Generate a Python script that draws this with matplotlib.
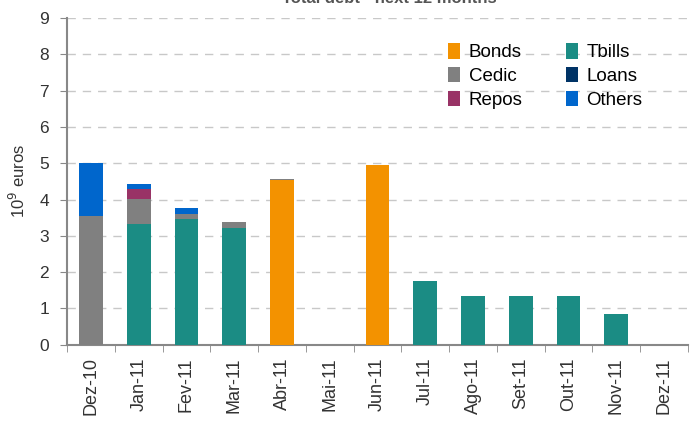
import numpy as np
import matplotlib.pyplot as plt

plt.rcParams['font.family'] = ['Liberation Sans', 'DejaVu Sans']

# data (10^9 euros)
months = ['Dez-10', 'Jan-11', 'Fev-11', 'Mar-11', 'Abr-11', 'Mai-11', 'Jun-11',
          'Jul-11', 'Ago-11', 'Set-11', 'Out-11', 'Nov-11', 'Dez-11']
bonds = [0, 0, 0, 0, 4.53, 0, 4.95, 0, 0, 0, 0, 0, 0]
tbills = [0, 3.33, 3.47, 3.22, 0, 0, 0, 1.75, 1.35, 1.35, 1.35, 0.85, 0]
cedic = [3.55, 0.69, 0.14, 0.17, 0.05, 0, 0, 0, 0, 0, 0, 0, 0]
loans = [0, 0, 0, 0, 0, 0, 0, 0, 0, 0, 0, 0, 0]
repos = [0, 0.26, 0, 0, 0, 0, 0, 0, 0, 0, 0, 0, 0]
others = [1.47, 0.16, 0.16, 0, 0, 0, 0, 0, 0, 0, 0, 0, 0]

series = [('Bonds', bonds, '#f39200'),
          ('Tbills', tbills, '#1b8c84'),
          ('Cedic', cedic, '#808080'),
          ('Loans', loans, '#003366'),
          ('Repos', repos, '#993366'),
          ('Others', others, '#0066cc')]

fig = plt.figure(figsize=(6.92, 4.21), dpi=100)
ax = fig.add_axes([0.097, 0.181, 0.897, 0.776])

x = np.arange(len(months))
bottom = np.zeros(len(months))
handles = {}
for name, vals, col in series:
    vals = np.array(vals)
    h = ax.bar(x, vals, 0.5, bottom=bottom, color=col, label=name, zorder=3)
    handles[name] = h
    bottom += vals

ax.set_xlim(-0.5, len(months) - 0.5)
ax.set_ylim(0, 9)
ax.set_yticks(range(10))
ax.yaxis.grid(True, linestyle=(0, (6, 5)), color='#c8c8c8', linewidth=1, zorder=0)

ax.set_xticks(x)
ax.set_xticklabels(months, rotation=90, fontsize=13, color='#333333')
ax.set_xticks(np.arange(-0.5, len(months)), minor=True)
ax.tick_params(axis='x', which='major', length=0, pad=9)
ax.tick_params(axis='x', which='minor', length=5, color='#888888', direction='out')
ax.tick_params(axis='y', labelsize=12.5, labelcolor='#333333', length=5,
               color='#888888', pad=8)

for s in ['top', 'right']:
    ax.spines[s].set_visible(False)
for s in ['left', 'bottom']:
    ax.spines[s].set_color('#888888')
    ax.spines[s].set_linewidth(1.5)

ax.set_ylabel('10$^9$ euros', fontsize=12, color='#333333', labelpad=8)

order = ['Bonds', 'Cedic', 'Repos', 'Tbills', 'Loans', 'Others']
fig.legend([handles[n] for n in order], order, ncol=2, frameon=False,
           fontsize=13.5, loc='upper left', bbox_to_anchor=(0.634, 0.92),
           borderpad=0, handlelength=0.65, handleheight=0.9, handletextpad=0.45,
           columnspacing=2.3, labelspacing=0.3)

fig.text(0.563, 1.003, 'Total debt - next 12 months', ha='center', va='center',
         fontsize=12, fontweight='bold', color='#555555')

fig.savefig('out.png', dpi=100)
